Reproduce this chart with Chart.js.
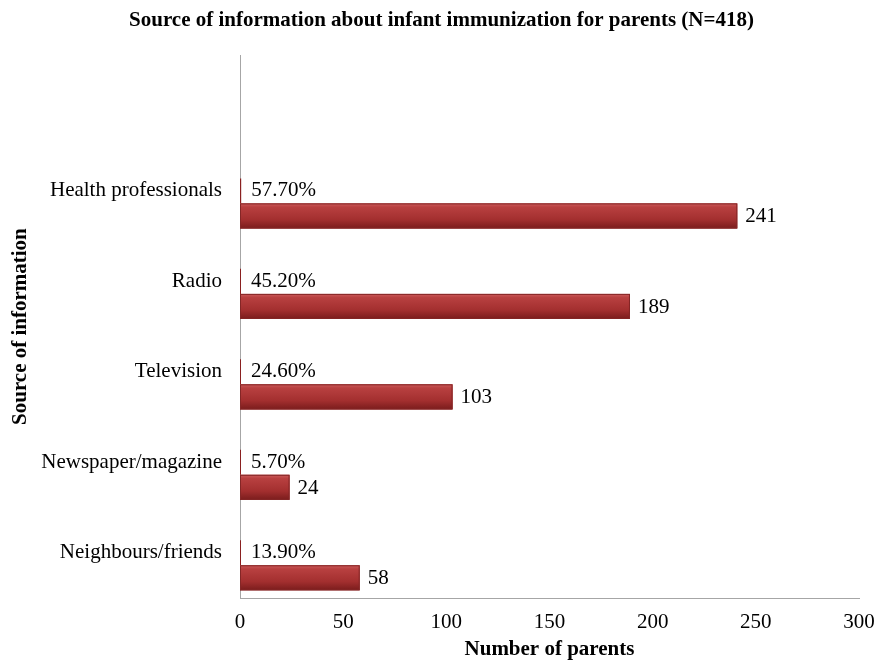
<!DOCTYPE html>
<html>
<head>
<meta charset="utf-8">
<script src="https://cdn.jsdelivr.net/npm/chart.js@4/dist/chart.umd.min.js"></script>
<style>
    html, body { margin: 0; padding: 0; background: #fff; }
    #wrap { width: 875px; height: 662px; }
</style>
</head>
<body>
<div id="wrap"><canvas id="sourceChart" width="875" height="662"></canvas></div>
<script>
// Categories top to bottom (first slot is the empty one above the bars)
const categories = ['', 'Health professionals', 'Radio', 'Television', 'Newspaper/magazine', 'Neighbours/friends'];
// Share of parents (fraction, shown as %)
const percentValues = [null, 0.577, 0.452, 0.246, 0.057, 0.139];
// Number of parents
const countValues = [null, 241, 189, 103, 24, 58];
// Empty third series in Excel that keeps the category label beside the % bar
const spacerValues = [null, null, null, null, null, null];
const xTicks = [0, 50, 100, 150, 200, 250, 300];

const serif = "'Liberation Serif', 'Times New Roman', serif";
const barRed = '#a83434';

// Shading like the bevelled Excel bars + value labels
const barLabels = {
    id: 'barLabels',
    afterDatasetsDraw(chart) {
        const ctx = chart.ctx;
        ctx.save();

        // bevel shading over count bars
        const countMeta = chart.getDatasetMeta(2);
        countMeta.data.forEach((el, i) => {
            if (countValues[i] == null) return;
            const p = el.getProps(['x', 'y', 'base', 'height'], true);
            const top = p.y - p.height / 2;
            const g = ctx.createLinearGradient(0, top, 0, top + p.height);
            g.addColorStop(0, '#cc5c5c');
            g.addColorStop(0.15, '#b84040');
            g.addColorStop(0.65, '#a32f2f');
            g.addColorStop(1, '#7a1c1c');
            ctx.fillStyle = g;
            ctx.fillRect(p.base, top, p.x - p.base, p.height);
            ctx.strokeStyle = '#842626';
            ctx.lineWidth = 1;
            ctx.strokeRect(p.base + 0.5, top + 0.5, p.x - p.base - 1, p.height - 1);
        });

        ctx.fillStyle = '#000';
        ctx.font = '21px ' + serif;
        ctx.textBaseline = 'middle';
        ctx.textAlign = 'left';

        countMeta.data.forEach((el, i) => {
            if (countValues[i] == null) return;
            const p = el.getProps(['x', 'y'], true);
            ctx.fillText(String(countValues[i]), p.x + 8, p.y + 1);
        });

        const pctMeta = chart.getDatasetMeta(1);
        pctMeta.data.forEach((el, i) => {
            if (percentValues[i] == null) return;
            const p = el.getProps(['x', 'y'], true);
            ctx.fillText((percentValues[i] * 100).toFixed(2) + '%', p.x + 10, p.y);
        });
        ctx.restore();
    }
};

new Chart(document.getElementById('sourceChart').getContext('2d'), {
    type: 'bar',
    data: {
        labels: categories,
        datasets: [
            {
                label: 'spacer',
                data: spacerValues,
                backgroundColor: 'rgba(0,0,0,0)'
            },
            {
                label: 'Percent',
                data: percentValues,
                backgroundColor: '#8a2020',
                minBarLength: 1
            },
            {
                label: 'Number of parents',
                data: countValues,
                backgroundColor: barRed
            }
        ]
    },
    options: {
        indexAxis: 'y',
        responsive: false,
        animation: false,
        categoryPercentage: 0.83,
        barPercentage: 1.0,
        layout: {
            padding: { top: 6, left: 8, right: 0, bottom: 0 }
        },
        plugins: {
            legend: { display: false },
            tooltip: { enabled: false },
            title: {
                display: true,
                text: 'Source of information about infant immunization for parents (N=418)',
                color: '#000',
                font: { family: serif, size: 21, weight: 'bold' },
                padding: { top: 2, bottom: 22 }
            }
        },
        scales: {
            x: {
                min: 0,
                max: 300,
                afterBuildTicks: function(scale) {
                    scale.ticks = xTicks.map(v => ({ value: v }));
                },
                afterFit: function(scale) {
                    scale.height = 64;
                    scale.paddingRight = 16;
                },
                grid: { display: false, drawTicks: false, tickLength: 0 },
                border: { display: true, color: '#a6a6a6', width: 1 },
                ticks: {
                    color: '#000',
                    padding: 12,
                    font: { family: serif, size: 21 }
                },
                title: {
                    display: true,
                    text: 'Number of parents',
                    color: '#000',
                    font: { family: serif, size: 21, weight: 'bold' },
                    padding: { top: 0, bottom: 0 }
                }
            },
            y: {
                afterFit: function(scale) {
                    scale.width = 232;
                },
                grid: { display: false, drawTicks: false, tickLength: 0 },
                border: { display: true, color: '#a6a6a6', width: 1 },
                ticks: {
                    color: '#000',
                    padding: 18,
                    autoSkip: false,
                    font: { family: serif, size: 21 }
                },
                title: {
                    display: true,
                    text: 'Source of information',
                    color: '#000',
                    font: { family: serif, size: 21, weight: 'bold' },
                    padding: { top: 0, bottom: 0 }
                }
            }
        }
    },
    plugins: [barLabels]
});
</script>
</body>
</html>
